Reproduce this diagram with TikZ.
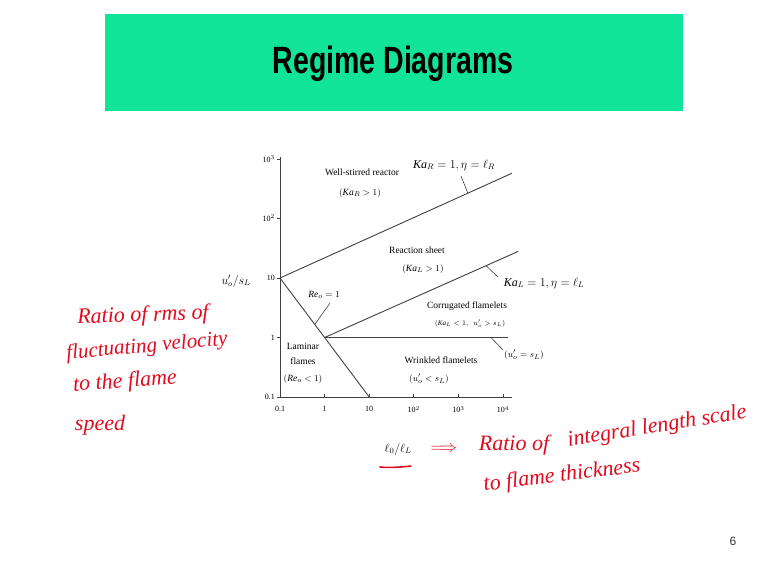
\documentclass[tikz,border=0pt]{standalone}
\usepackage{fontspec}
\setmainfont{Liberation Serif}
\newfontfamily\titlefont{Liberation Sans}
\definecolor{bannergreen}{RGB}{17,227,153}
\definecolor{inkred}{RGB}{225,10,30}
\tikzset{
    region/.style={font=\fontsize{9.5}{11}\selectfont, inner sep=0pt},
    smallregion/.style={font=\fontsize{7}{8}\selectfont, inner sep=0pt},
    ticklabel/.style={font=\fontsize{8}{9}\selectfont, inner sep=0pt},
    mathlabel/.style={font=\fontsize{12}{14}\selectfont, inner sep=0pt},
    ink/.style={text=inkred, font=\fontsize{22}{24}\selectfont\itshape, inner sep=0pt},
    inkline/.style={draw=inkred, line width=1.6pt, line cap=round},
    leader/.style={black!75, line width=0.6pt},
    regline/.style={black!75, line width=0.9pt},
}

\begin{document}
\begin{tikzpicture}[x=1pt,y=-1pt]
                \useasboundingbox (0,0) rectangle (765,574);
                \fill[white] (0,0) rectangle (765,574);
                \fill[bannergreen] (105,14) rectangle (683,111);
                \node[font=\titlefont\bfseries\fontsize{38}{40}\selectfont, xscale=0.75] (title) at (393,64) {Regime Diagrams};
                \begin{scope}[xshift=280pt, yshift=-397pt, x=44.6pt, y=59.5pt]
                    \coordinate (o) at (0,0);
                    \coordinate (xend) at (5.2,0);
                    \coordinate (yend) at (0,4.03);
                    \coordinate (p10) at (0,2);
                    \coordinate (p11) at (1,1);
                    \coordinate (p100) at (2,0);
                    \coordinate (kartop) at (5.2,3.76);
                    \coordinate (kaltop) at (5.34,2.447);
                    \coordinate (flatend) at (5.11,1);
                    \draw[regline] (o) -- (xend);
                    \draw[regline] (o) -- (yend);
                    \foreach \i/\t in {0/0.1, 1/1, 2/10, 3/10$^2$, 4/10$^3$, 5/10$^4$}
                    {
                        \draw[regline] (\i,0) -- ++(0,3pt);
                        \node[ticklabel, anchor=north] (xt\i) at (\i,0) [yshift=-9pt] {\t};
                    }
                    \foreach \j/\t in {0/0.1, 1/1, 2/10, 3/10$^2$, 4/10$^3$}
                    {
                        \draw[regline] (0,\j) -- ++(-3pt,0);
                        \node[ticklabel, anchor=east] (yt\j) at (0,\j) [xshift=-5pt] {\t};
                    }
                    \draw[regline] (p10) -- coordinate[pos=0.81] (karfoot) (kartop);
                    \draw[regline] (p11) -- coordinate[pos=0.834] (kalfoot) (kaltop);
                    \draw[regline] (p11) -- coordinate[pos=0.908] (flatfoot) (flatend);
                    \draw[regline] (p10) -- coordinate[pos=0.39] (refoot) (p100);
                \end{scope}
                \coordinate (karhead) at (461,176);
                \coordinate (kalhead) at (498,277);
                \coordinate (flathead) at (503,350);
                \coordinate (rehead) at (330,303);
                \draw[leader] (karfoot) -- (karhead);
                \draw[leader] (kalfoot) -- (kalhead);
                \draw[leader] (flatfoot) -- (flathead);
                \draw[leader] (refoot) -- (rehead);
                \node[region] (wsr) at (362,172) {Well-stirred reactor};
                \node[region] (wsrcond) at (360,193) {$(\mathit{Ka}_R>1)$};
                \node[mathlabel] (kar) at (454,165) {$\mathit{Ka}_R=1,\eta=\ell_R$};
                \node[region] (rs) at (417,250) {Reaction sheet};
                \node[region] (rscond) at (423,269) {$(\mathit{Ka}_L>1)$};
                \node[mathlabel] (kal) at (544,283) {$\mathit{Ka}_L=1,\eta=\ell_L$};
                \node[region] (re) at (324,295) {$\mathit{Re}_o=1$};
                \node[region] (cf) at (467,306) {Corrugated flamelets};
                \node[smallregion] (cfcond) at (470,324) {$(\mathit{Ka}_L<1,\ \ u'_o>s_L)$};
                \node[region] (lam) at (303,346) {Laminar};
                \node[region] (lam2) at (303,361) {flames};
                \node[region] (lamcond) at (303,379) {$(\mathit{Re}_o<1)$};
                \node[region] (wf) at (441,360) {Wrinkled flamelets};
                \node[region] (wfcond) at (429,379) {$(u'_o<s_L)$};
                \node[region] (flat) at (524,355) {$(u'_o=s_L)$};
                \node[mathlabel] (ylab) at (236,281) {$u'_o/s_L$};
                \node[mathlabel] (xlab) at (398,449) {$\ell_0/\ell_L$};
                \node[ink, rotate=2] (hw1) at (143,316) {Ratio of rms of};
                \node[ink, rotate=5, font=\fontsize{21}{23}\selectfont\itshape] (hw2) at (147,347) {fluctuating velocity};
                \node[ink, rotate=4] (hw3) at (125,382) {to the flame};
                \node[ink] (hw4) at (100,425) {speed};
                \coordinate (ulinea) at (380,467);
                \coordinate (ulineb) at (411,466);
                \draw[inkline] (ulinea) .. controls (390,468) and (402,467) .. (ulineb);
                \node[text=inkred, font=\fontsize{18}{20}\selectfont, inner sep=0pt] (implies) at (444,449) {$\Longrightarrow$};
                \node[ink] (hw5) at (514,445) {Ratio of};
                \node[ink, rotate=9] (hw6) at (657,427) {integral length scale};
                \node[ink, rotate=7] (hw7) at (562,476) {to flame thickness};
                \node[font=\titlefont\fontsize{12}{14}\selectfont, text=black!80] (page) at (733,541) {6};
            \end{tikzpicture}
\end{document}
